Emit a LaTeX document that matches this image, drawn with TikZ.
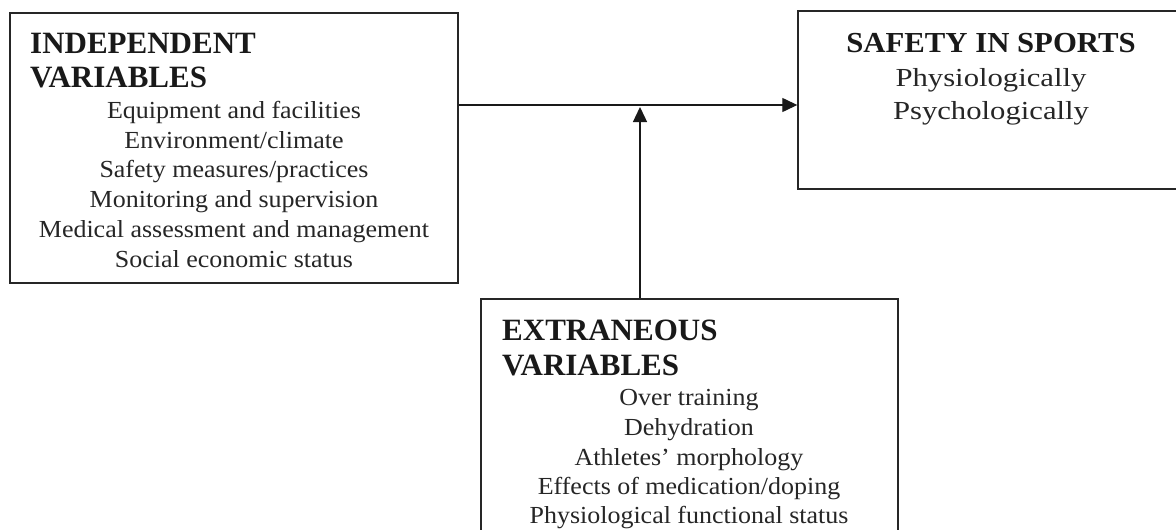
\documentclass[tikz,border=0pt]{standalone}
\usepackage{fontspec}
\setmainfont{Liberation Serif}
\newfontfamily\bodyfont[FakeStretch=1.06]{Liberation Serif}
\newfontfamily\rbodyfont[FakeStretch=1.18]{Liberation Serif}
\newfontfamily\rheadfont[FakeStretch=1.06]{Liberation Serif}
\usetikzlibrary{arrows.meta,calc}
\tikzset{
  box/.style={draw=black!85, line width=1.4pt, inner sep=0pt, fill=none},
  headtxt/.style={anchor=base west, inner sep=0pt, font=\bfseries\fontsize{31}{34}\selectfont, text=black!90},
  bodytxt/.style={anchor=base, inner sep=0pt, font=\bodyfont\fontsize{24.5}{29.7}\selectfont, text=black!85},
  rheadtxt/.style={anchor=base, inner sep=0pt, font=\rheadfont\bfseries\fontsize{29}{34}\selectfont, text=black!90},
  rbodytxt/.style={anchor=base, inner sep=0pt, font=\rbodyfont\fontsize{26}{33}\selectfont, text=black!85},
  conn/.style={draw=black!90, line width=1.3pt, -{Triangle[length=15pt,width=14pt]}}
}
\begin{document}
\begin{tikzpicture}[x=1pt,y=-1pt]
\useasboundingbox (0,0) rectangle (1176,530);
\clip (0,0) rectangle (1176,530);
\fill[white] (0,0) rectangle (1176,530);
% boxes
\node[box, minimum width=448pt, minimum height=270pt] (L) at (234,148) {};
\node[box, minimum width=400pt, minimum height=178pt] (R) at (998,100) {};
\node[box, minimum width=417pt, minimum height=250pt] (B) at (689.5,424) {};
% left box text
\node[headtxt] (Lh1) at (30,53) {INDEPENDENT};
\node[headtxt] (Lh2) at (30,87) {VARIABLES};
\node[bodytxt] (L1) at (234,118) {Equipment and facilities};
\node[bodytxt] (L2) at (234,148) {Environment/climate};
\node[bodytxt] (L3) at (234,177.5) {Safety measures/practices};
\node[bodytxt] (L4) at (234,207) {Monitoring and supervision};
\node[bodytxt] (L5) at (234,237) {Medical assessment and management};
\node[bodytxt] (L6) at (234,267) {Social economic status};
% right box text
\node[rheadtxt] (Rh) at (991,52) {SAFETY IN SPORTS};
\node[rbodytxt] (R1) at (991,86) {Physiologically};
\node[rbodytxt] (R2) at (991,119) {Psychologically};
% bottom box text
\node[headtxt] (Bh1) at (502,340) {EXTRANEOUS};
\node[headtxt] (Bh2) at (502,375) {VARIABLES};
\node[bodytxt] (B1) at (689,405) {Over training};
\node[bodytxt] (B2) at (689,435) {Dehydration};
\node[bodytxt] (B3) at (689,465) {Athletes’ morphology};
\node[bodytxt] (B4) at (689,494.5) {Effects of medication/doping};
\node[bodytxt] (B5) at (689,523.5) {Physiological functional status};
% connectors
\coordinate (hy) at (0,105);
\coordinate (vx) at (640,0);
\draw[conn] (L.east |- hy) -- (R.west |- hy);
\draw[conn, shorten >=2pt] (B.north -| vx) -- (vx |- hy);
\end{tikzpicture}
\end{document}
